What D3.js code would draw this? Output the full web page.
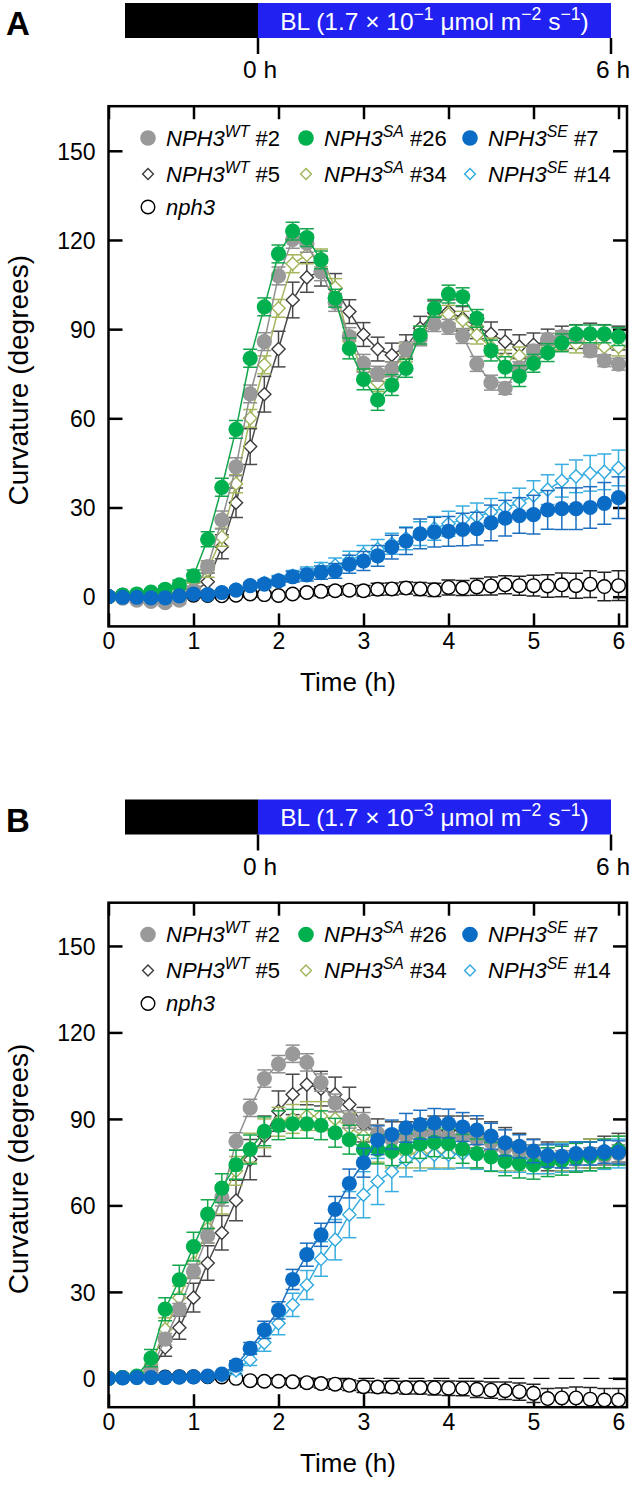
<!DOCTYPE html>
<html><head><meta charset="utf-8">
<script src="https://cdn.jsdelivr.net/npm/d3@7/dist/d3.min.js"></script>
<style>body{margin:0;background:#fff}svg{display:block;font-family:"Liberation Sans",Arial,sans-serif}</style>
</head><body><svg id="c" width="633" height="1510"></svg>
<script>
// time points (minutes)
const minutes = [0,10,20,30,40,50,60,70,80,90,100,110,120,130,140,150,160,170,180,190,200,210,220,230,240,250,260,270,280,290,300,310,320,330,340,350,360];
const xTicks = [0,1,2,3,4,5,6];
const yTicks = [0,30,60,90,120,150];

// Panel A (1.7 x 10^-1)
const A_WT2 = [0,-0.5,-1.2,-1.6,-2,-1.2,2, 10.1,25.8,43.7,68.2,85.8, 107.9,120.2,118.9,109.3,99, 87.5,78.5,75,76.5,83.2, 86.9,91.7,90.8,87.7,78.3, 72,70.1,77,82.7,86.6, 87.5,87.5,82.7,79.4,78.2];
const A_WT2_err = [0.5,0.8,1,1,1.2,1.2,1.5, 2,3,3,3,3, 3,3,3,3,3, 3,3,2.5,2.5,2.5, 2.5,2.5,2.5,2.5,2.5, 2.5,2,2,2,2, 2,2,2,2,2];
const A_WT5 = [0,0.5,0.3,0,-0.5,0,1.5, 5,16.8,31.6,50.5,68.1, 83.3,99.8,107.4,109.5,103.7, 95.9,88.2,83.3,81.3,84.1, 90.3,95.5,95.9,93.6,90.8, 88.4,85.8,84.1,84.7,86, 87,87.5,88,87.5,87];
const A_WT5_err = [0.5,0.8,1,1,1,1,1.5, 3,4,5,6,6, 6,6,5,5,5, 4,4,4,4,4, 4,4,4,4,4, 4,4,4,4,4, 4,4,4,4,4];
const A_SA26 = [0,0.5,0.9,1.5,2.5,4,7, 19.3,36.8,56.3,80.2,97.5, 115.3,123,120.8,113.3,100.4, 83.5,73.1,66.2,71.2,76.8, 88,97,101.8,100.9,93.6, 82.8,77.2,74.2,78.5,82.1, 85.4,88.4,88.4,88.4,87.5];
const A_SA26_err = [0.5,0.8,1,1,1.2,1.5,2, 2.5,3,3,3,3, 3,3,3,3,3, 3.5,3.5,3.5,3.5,3, 3,3,3,3,3, 3.5,3.5,3.5,3,3, 3,3,3,3,3];
const A_SA34 = [0,0.3,0.2,0.5,0.8,1.5,3, 9,20,38,60,78, 97,112,115,114,104, 86,76,72,76,82, 88,94,95,93,88, 84,80,81,80,84, 86,85,86,84,84];
const A_SA34_err = [0.5,0.8,1,1,1,1.2,1.5, 2.5,3,3,3,3, 3,3,3,3,3, 3,3,3,3,3, 3,3,3,3,3, 3,3,3,3,3, 3,3,3,3,3];
const A_SE7 = [0,-0.2,-0.2,-0.4,-0.4,0.3,0.9, 0.7,1.4,2.2,3.7,4.2, 5.3,6.7,7.3,8.1,8.7, 10.9,12,13.7,16.7,18.7, 21.1,21.7,22,22.6,22.9, 24.8,26.4,27.3,27.6,29.2, 29.6,29.6,30,31.4,33.3];
const A_SE7_err = [0.3,0.3,0.3,0.3,0.3,0.4,0.5, 0.5,0.6,0.8,1,1.2, 1.5,1.8,2,2.2,2.5, 3,3.2,3.5,4,4.5, 5,5,5,5.5,5.5, 6,6,6,6.5,6.5, 7,7,7,7,7];
const A_SE14 = [0,-0.2,-0.1,-0.2,-0.3,0.4,0.9, 0.8,1.5,2.4,3.8,4.6, 5.6,7,8,9.3,10.5, 12.3,14.2,16,17.8,19.6, 21.2,23,24.5,26,27, 28.5,30,31.5,34,36, 39,40.5,41.5,42,43.3];
const A_SE14_err = [0.3,0.3,0.3,0.3,0.3,0.4,0.5, 0.5,0.6,0.8,1,1.2, 1.5,1.8,2,2.2,2.5, 3,3,3.2,3.5,3.8, 4,4,4.2,4.5,4.5, 4.5,5,5,5,5, 5.5,5.5,6,6,6];
const A_nph3 = [0,0.5,0.6,0.2,0,0.3,0.5, 0.4,0.3,0.5,0.9,0.7, 0.4,0.9,1.4,1.8,2, 2.2,2,2.5,2.6,2.9, 2.6,2.3,3.1,2.9,3.3, 3.6,4,3.7,3.7,3.6, 4,3.7,4.2,3.4,3.7];
const A_nph3_err = [0.5,0.8,0.8,0.8,0.8,0.8,0.8, 0.8,0.8,0.8,1,1, 1,1,1.2,1.5,1.5, 1.5,1.8,2,2,2, 2.2,2.2,2.5,2.5,2.8, 3,3,3.2,3.5,3.8, 4,4.2,4.5,4.8,5];

// Panel B (1.7 x 10^-3)
const B_WT2 = [0,0.3,0.5,3,13.6,24,37.1, 49.5,62.8,82.2,93.8,104, 109,112.6,109.6,102.6,95.6, 89.8,89.2,85,83,84, 85,85,84,84,83, 82,80,79,78,77, 76,76,77,77,78];
const B_WT2_err = [0.5,0.5,0.8,1.5,2,2,2.5, 2.5,3,3,3,3, 3,3,3,3,3, 3,3,3,3,3, 3,3,3,3,3, 3,3,3,3,3, 3,3,3,3,3];
const B_WT5 = [0,0.3,0.5,2,10.7,17.6,28, 40,50.5,61.7,75.9,84, 92.7,98.5,101.9,100.5,98.5, 95,88,85,84,84, 85,86,86,86,85, 84,82,80,78,77, 77,77,78,79,80];
const B_WT5_err = [0.5,0.5,1,2,3,4,5, 6,6,7,7,7, 7,7,7,6,6, 6,6,5,5,5, 5,5,5,5,5, 5,5,5,5,5, 5,5,5,5,5];
const B_SA26 = [0,0.3,0.8,7,24,34.2,45.7, 57,66,74.1,79.4,85.7, 87.8,88.3,88.3,87.8,85.2, 82.8,79.4,79.4,78.8,79.9, 81.3,81.9,81.4,79.6,78, 76.8,75.3,74.5,74.1,75, 75.5,76.5,77,78,79];
const B_SA26_err = [0.5,0.5,1,3,4,5,5, 5,5,5,5,5, 5,5,5,5,5, 5,5,5,5,5, 5,5,5,5,5, 5,5,5,5,5, 5,5,5,5,5];
const B_SA34 = [0,0.3,0.5,5,17,28,40, 52,62,72,80,85, 89,90,91,91,90, 87,84,80,78,78, 78,78,78,78,78, 77,77,77,76,76, 77,77,78,78,79];
const B_SA34_err = [0.5,0.5,1,3,4,4,5, 5,5,5,5,5, 5,5,5,5,5, 5,5,5,5,5, 5,5,5,5,5, 5,5,5,5,5, 5,5,5,5,5];
const B_SE7 = [0,0.2,0.3,0.3,0.3,0.4,0.5, 0.8,1.5,4.6,10.4,16.8, 23.6,34.3,42.9,49.8,58.6, 67.6,74.8,82.6,84.6,86.9, 88,88.6,88.4,87.2,86.1, 84,81.7,80.5,78.8,77.3, 77,78,78,78.6,78.4];
const B_SE7_err = [0.3,0.3,0.3,0.3,0.3,0.4,0.5, 0.5,0.8,1.5,2,3, 3,3.5,4,4,4.5, 5,5,5,5,5, 5,5,5,5,5, 4.5,4.5,4,4,4, 4,4,4,4,4];
const B_SE14 = [0,0.1,0.2,0.2,0.2,0.3,0.4, 0.6,1,2.8,6.5,12.4, 19.1,25.5,32.4,41.4,48.1, 56.8,63.7,68.3,71.8,75.9, 77,77.6,77.6,78,77.5, 77,76.5,76.5,76,76, 76.5,77,77,77.5,78];
const B_SE14_err = [0.3,0.3,0.3,0.3,0.3,0.4,0.5, 0.5,0.8,1.5,2,3, 4,4,5,6,7, 8,8,8,7,6, 5,5,5,5,5, 5,5,5,5,5, 5,5,5,5,5];
const B_nph3 = [0,0.3,0.5,0.5,0.5,0.6,0.6, 0.6,0.5,0,-0.8,-1, -1,-1.2,-1.5,-1.8,-2, -2.4,-2.9,-3,-3,-3.2, -3.2,-3.3,-3.4,-3.5,-3.8, -4.1,-4.3,-4.6,-5.2,-7, -6.8,-6.8,-7.2,-7.5,-7.5];
const B_nph3_err = [0.5,0.5,0.5,0.5,0.5,0.5,0.5, 0.5,0.5,0.8,1,1, 1.2,1.2,1.5,1.5,1.8, 1.8,2,2,2,2.2, 2.2,2.5,2.5,2.5,2.8, 2.8,3,3,3.2,3.5, 3.5,3.8,4,4,4];

// series styling / legend
const seriesInfo = [
  {key:"nph3", gene:"nph3", sup:"", num:"", shape:"circle", open:true, color:"#000000", line:"#222222"},
  {key:"WT5", gene:"NPH3", sup:"WT", num:" #5", shape:"diamond", open:true, color:"#3c3c3c", line:"#4a4a4a"},
  {key:"SA34", gene:"NPH3", sup:"SA", num:" #34", shape:"diamond", open:true, color:"#9fb458", line:"#a3b65c"},
  {key:"SE14", gene:"NPH3", sup:"SE", num:" #14", shape:"diamond", open:true, color:"#2fa9df", line:"#3aaee0"},
  {key:"WT2", gene:"NPH3", sup:"WT", num:" #2", shape:"circle", open:false, color:"#999999", line:"#8f8f8f"},
  {key:"SA26", gene:"NPH3", sup:"SA", num:" #26", shape:"circle", open:false, color:"#00b04f", line:"#14a64c"},
  {key:"SE7", gene:"NPH3", sup:"SE", num:" #7", shape:"circle", open:false, color:"#0a6cc4", line:"#1d6fc0"}
];
const legendLayout = [
  {key:"WT2", col:0,row:0},{key:"SA26",col:1,row:0},{key:"SE7",col:2,row:0},
  {key:"WT5", col:0,row:1},{key:"SA34",col:1,row:1},{key:"SE14",col:2,row:1},
  {key:"nph3",col:0,row:2}
];
const legendColX = [148, 306, 470];

const panels = [
  {letter:"A", exp:"\u22121", off:0, top:106.2, bottom:626.4, dashedZero:false,
   data:{WT2:[A_WT2,A_WT2_err],WT5:[A_WT5,A_WT5_err],SA26:[A_SA26,A_SA26_err],SA34:[A_SA34,A_SA34_err],SE7:[A_SE7,A_SE7_err],SE14:[A_SE14,A_SE14_err],nph3:[A_nph3,A_nph3_err]}},
  {letter:"B", exp:"\u22123", off:796.5, top:902.7, bottom:1407.2, dashedZero:true,
   data:{WT2:[B_WT2,B_WT2_err],WT5:[B_WT5,B_WT5_err],SA26:[B_SA26,B_SA26_err],SA34:[B_SA34,B_SA34_err],SE7:[B_SE7,B_SE7_err],SE14:[B_SE14,B_SE14_err],nph3:[B_nph3,B_nph3_err]}}
];

const svg = d3.select("#c");
const L = 108.5, R = 627;

panels.forEach((p, pi) => {
  const g = svg.append("g");
  const o = p.off;
  // panel letter
  g.append("text").attr("x", 6).attr("y", 35 + o).attr("font-size", 33).attr("font-weight", "bold").text(p.letter);
  // light bar
  const bar = d3.scaleLinear().domain([-1, 0, 6]).range([125, 258, 611]);
  g.append("rect").attr("x", bar(-1)).attr("y", 3 + o).attr("width", bar(0) - bar(-1)).attr("height", 35).attr("fill", "#000");
  g.append("rect").attr("x", bar(0)).attr("y", 3 + o).attr("width", bar(6) - bar(0)).attr("height", 35).attr("fill", "#2121f2");
  const bl = g.append("text").attr("x", (bar(0) + bar(6)) / 2).attr("y", 29.5 + o).attr("text-anchor", "middle")
    .attr("font-size", 24.5).attr("fill", "#fff");
  bl.append("tspan").text("BL (1.7 \u00d7 10");
  bl.append("tspan").attr("font-size", "0.72em").attr("dy", "-0.55em").text(p.exp);
  bl.append("tspan").attr("dy", "0.4em").text(" \u03bcmol m");
  bl.append("tspan").attr("font-size", "0.72em").attr("dy", "-0.55em").text("\u22122");
  bl.append("tspan").attr("dy", "0.4em").text(" s");
  bl.append("tspan").attr("font-size", "0.72em").attr("dy", "-0.55em").text("\u22121");
  bl.append("tspan").attr("dy", "0.4em").text(")");
  [0, 6].forEach(h => {
    g.append("line").attr("x1", bar(h)).attr("x2", bar(h)).attr("y1", 38 + o).attr("y2", 54 + o).attr("stroke", "#000").attr("stroke-width", 2.5);
    g.append("text").attr("x", bar(h) + 2).attr("y", 78 + o).attr("text-anchor", "middle").attr("font-size", 24.5).text(h + " h");
  });

  const x = d3.scaleLinear().domain([0, 6.1]).range([L, R]);
  const y = d3.scaleLinear().domain([-10, 165]).range([p.bottom, p.top]);
  const W = R - L, H = p.bottom - p.top;

  // axes
  const fmt = d3.format("d");
  const axB = g.append("g").attr("transform", `translate(0,${p.bottom})`)
    .call(d3.axisBottom(x).tickValues(xTicks).tickFormat(fmt).tickSize(-13).tickPadding(6));
  const axT = g.append("g").attr("transform", `translate(0,${p.top})`)
    .call(d3.axisTop(x).tickValues(xTicks).tickFormat("").tickSize(-13));
  const axL = g.append("g").attr("transform", `translate(${L},0)`)
    .call(d3.axisLeft(y).tickValues(yTicks).tickFormat(fmt).tickSize(-14).tickPadding(13));
  const axR = g.append("g").attr("transform", `translate(${R},0)`)
    .call(d3.axisRight(y).tickValues(yTicks).tickFormat("").tickSize(-14));
  [axB, axT, axL, axR].forEach(a => {
    a.select(".domain").remove();
    a.selectAll(".tick line").attr("stroke", "#000").attr("stroke-width", 2.5);
    a.selectAll(".tick text").attr("font-size", 23).attr("fill", "#000").attr("font-family", "Liberation Sans, Arial, sans-serif");
  });
  axL.selectAll(".tick text").attr("dy", "0.36em");

  // titles
  g.append("text").attr("x", 348).attr("y", p.bottom + 65).attr("text-anchor", "middle").attr("font-size", 26).text("Time (h)");
  g.append("text").attr("transform", `translate(28,${(p.top + p.bottom) / 2 + 14}) rotate(-90)`).attr("text-anchor", "middle").attr("font-size", 28).text("Curvature (degrees)");

  // clip
  const cid = "clip" + pi;
  g.append("clipPath").attr("id", cid).append("rect").attr("x", L).attr("y", p.top).attr("width", W).attr("height", H);
  const plot = g.append("g").attr("clip-path", `url(#${cid})`);

  if (p.dashedZero) {
    plot.append("line").attr("x1", L).attr("x2", R).attr("y1", y(0)).attr("y2", y(0))
      .attr("stroke", "#000").attr("stroke-width", 1.3).attr("stroke-dasharray", "16,9");
  }

  const line = d3.line().x((d, i) => x(minutes[i] / 60)).y(d => y(d));
  seriesInfo.forEach(s => {
    const [vals, errs] = p.data[s.key];
    const sg = plot.append("g");
    sg.append("path").attr("d", line(vals)).attr("fill", "none").attr("stroke", s.line).attr("stroke-width", 1.5);
    const pts = vals.map((v, i) => ({t: minutes[i] / 60, v, e: errs[i] || 0}));
    const eb = sg.append("g").attr("stroke", s.line).attr("stroke-width", 1.5);
    pts.forEach(d => {
      if (d.e <= 0) return;
      const cx = x(d.t), y1 = y(d.v + d.e), y2 = y(d.v - d.e);
      eb.append("line").attr("x1", cx).attr("x2", cx).attr("y1", y1).attr("y2", y2);
      eb.append("line").attr("x1", cx - 7).attr("x2", cx + 7).attr("y1", y1).attr("y2", y1);
      eb.append("line").attr("x1", cx - 7).attr("x2", cx + 7).attr("y1", y2).attr("y2", y2);
    });
    pts.forEach(d => {
      const cx = x(d.t), cy = y(d.v);
      if (s.shape === "circle") {
        sg.append("circle").attr("cx", cx).attr("cy", cy).attr("r", s.open ? 6.8 : 7.6)
          .attr("fill", s.open ? "#fff" : s.color).attr("stroke", s.open ? s.color : "none").attr("stroke-width", 1.4);
      } else {
        const r = 6.6;
        sg.append("path").attr("d", `M${cx},${cy - r}L${cx + r},${cy}L${cx},${cy + r}L${cx - r},${cy}Z`)
          .attr("fill", "#fff").attr("stroke", s.color).attr("stroke-width", 1.4);
      }
    });
  });

  // frame
  g.append("rect").attr("x", L).attr("y", p.top).attr("width", W).attr("height", H)
    .attr("fill", "none").attr("stroke", "#000").attr("stroke-width", 2.5);

  // legend
  const rowY = [138, 174, 207].map(v => v + o);
  legendLayout.forEach(l => {
    const s = seriesInfo.find(q => q.key === l.key);
    const mx = legendColX[l.col], my = rowY[l.row];
    if (s.shape === "circle") {
      g.append("circle").attr("cx", mx).attr("cy", my).attr("r", s.open ? 6.8 : 7.8)
        .attr("fill", s.open ? "#fff" : s.color).attr("stroke", s.open ? s.color : "none").attr("stroke-width", 1.4);
    } else {
      const r = 5.4;
      g.append("path").attr("d", `M${mx},${my - r}L${mx + r},${my}L${mx},${my + r}L${mx - r},${my}Z`)
        .attr("fill", "#fff").attr("stroke", s.color).attr("stroke-width", 1.4);
    }
    const t = g.append("text").attr("x", mx + 18).attr("y", my + 7.5).attr("font-size", 22);
    t.append("tspan").attr("font-style", "italic").text(s.gene);
    if (s.sup) {
      t.append("tspan").attr("font-style", "italic").attr("font-size", "0.72em").attr("dy", "-0.55em").text(s.sup);
      t.append("tspan").attr("dy", "0.4em").text(s.num);
    }
  });
});
</script></body></html>
